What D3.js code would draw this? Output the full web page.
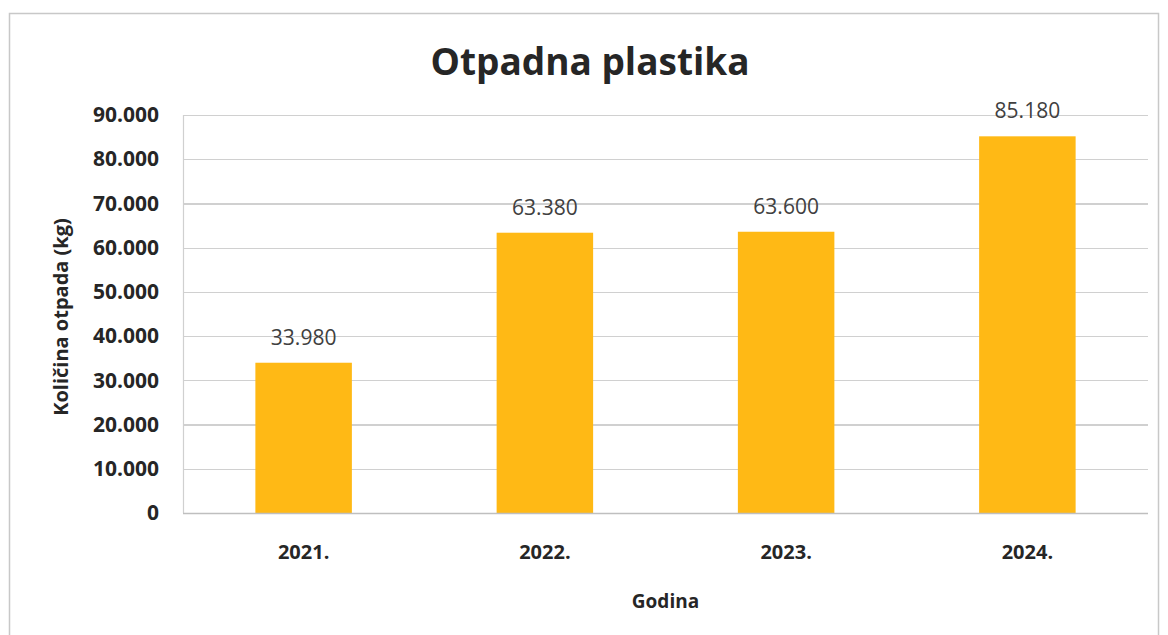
<!DOCTYPE html>
<html lang="hr">
<head>
  <meta charset="UTF-8" />
  <title>Otpadna plastika</title>
  <style>
    body { margin: 0; background: #fff; font-family: 'Open Sans', Lato, sans-serif; }
    svg { display: block; }
    .grid line { stroke: #d0d0d0; stroke-width: 1.2px; shape-rendering: crispEdges; }
    .grid path { display: none; }
    .axis path, .axis line { display: none; }
    .yaxis text { font-size: 21px; font-weight: 700; fill: #262626; font-family: 'Open Sans', sans-serif; }
    .xaxis text { font-size: 20px; font-weight: 700; fill: #262626; font-family: 'Open Sans', sans-serif; }
    .label { font-size: 21px; fill: #404040; }
  </style>
</head>
<body>
  <svg width="1168" height="635"></svg>

  <script src="https://d3js.org/d3.v7.min.js"></script>
  <script>
    // --- data
    const years = ["2021.", "2022.", "2023.", "2024."];
    const amounts = [33980, 63380, 63600, 85180];
    const yTicks = [0, 10000, 20000, 30000, 40000, 50000, 60000, 70000, 80000, 90000];

    const fmt = v => v === 0 ? "0" : d3.format(",")(v).replace(/,/g, ".");

    const svg = d3.select("svg");
    const margin = { top: 115, left: 183 };
    const width = 1148 - margin.left;
    const height = 513 - margin.top;

    // chart frame
    svg.append("rect")
      .attr("x", 9.5).attr("y", 13.5)
      .attr("width", 1149).attr("height", 640)
      .attr("fill", "none").attr("stroke", "#c8c8c8").attr("stroke-width", 1.5);

    const g = svg.append("g").attr("transform", `translate(${margin.left},${margin.top})`);

    const x = d3.scaleBand().domain(years).range([0, width]).paddingInner(0.6).paddingOuter(0.3);
    const y = d3.scaleLinear().domain([0, 90000]).range([height, 0]);

    // gridlines
    g.append("g").attr("class", "grid")
      .call(d3.axisLeft(y).tickValues(yTicks).tickSize(-width).tickFormat(""));

    // left edge of plot area
    g.append("line")
      .attr("x1", 0.5).attr("x2", 0.5).attr("y1", 0).attr("y2", height)
      .attr("stroke", "#d0d0d0").attr("stroke-width", 1.2);

    // bars
    g.selectAll(".bar").data(amounts)
      .join("rect")
        .attr("class", "bar")
        .attr("x", (d, i) => x(years[i]))
        .attr("y", d => y(d))
        .attr("width", x.bandwidth())
        .attr("height", d => height - y(d))
        .attr("fill", "#FFB915");

    // baseline
    g.append("line")
      .attr("x1", 0).attr("x2", width).attr("y1", height + 0.5).attr("y2", height + 0.5)
      .attr("stroke", "#bfbfbf").attr("stroke-width", 1.5);

    // value labels
    g.selectAll(".label").data(amounts)
      .join("text")
        .attr("class", "label")
        .attr("x", (d, i) => x(years[i]) + x.bandwidth() / 2)
        .attr("y", d => y(d) - 18)
        .attr("text-anchor", "middle")
        .text(d => fmt(d));

    // axes
    g.append("g").attr("class", "axis yaxis")
      .call(d3.axisLeft(y).tickValues(yTicks).tickSize(0).tickPadding(24).tickFormat(fmt));

    g.append("g").attr("class", "axis xaxis")
      .attr("transform", `translate(0,${height})`)
      .call(d3.axisBottom(x).tickSize(0).tickPadding(32));

    // titles
    svg.append("text")
      .attr("x", 590).attr("y", 75)
      .attr("text-anchor", "middle")
      .style("font-size", "37px").style("font-weight", 700).style("fill", "#262626")
      .text("Otpadna plastika");

    svg.append("text")
      .attr("transform", `translate(68,${margin.top + height / 2 + 3}) rotate(-90)`)
      .attr("text-anchor", "middle")
      .style("font-size", "20px").style("font-weight", 700).style("fill", "#262626")
      .text("Količina otpada (kg)");

    svg.append("text")
      .attr("x", margin.left + width / 2).attr("y", 608)
      .attr("text-anchor", "middle")
      .style("font-size", "19px").style("font-weight", 700).style("fill", "#262626")
      .text("Godina");
  </script>
</body>
</html>
